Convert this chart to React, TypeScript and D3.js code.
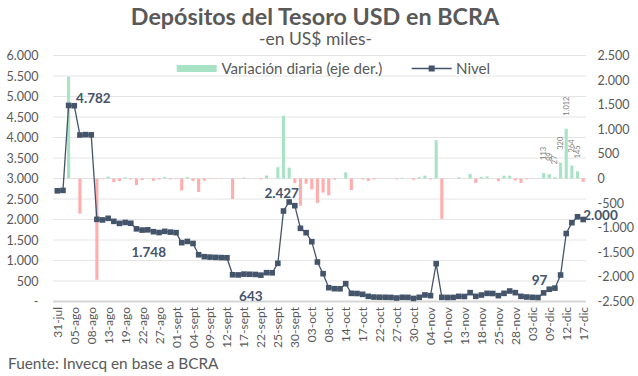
import React from 'react';
import * as d3 from 'd3';

const tickLabels = ['31-jul','05-ago','08-ago','13-ago','19-ago','22-ago','27-ago','01-sept','04-sept','09-sept','12-sept','17-sept','22-sept','25-sept','30-sept','03-oct','08-oct','14-oct','17-oct','22-oct','27-oct','30-oct','04-nov','10-nov','13-nov','18-nov','25-nov','28-nov','03-dic','09-dic','12-dic','17-dic'];

const nivel = [2700,2710,4782,4775,4061,4070,4064,2004,1990,2029,1955,1905,1928,1908,1772,1742,1748,1703,1682,1711,1692,1680,1435,1465,1415,1140,1093,1082,1076,1071,1067,652,648,668,664,660,643,703,700,931,2207,2427,2337,1785,1679,1459,963,679,337,313,310,435,199,195,175,126,108,104,102,100,85,102,100,75,102,160,143,923,102,98,100,126,122,216,126,158,199,195,143,199,256,216,126,110,102,97,210,299,326,646,1658,1922,2067,2000];

const variacion = [0,10,2072,-7,-714,9,-6,-2060,-14,39,-74,-50,23,-20,-136,-30,6,-45,-21,29,-19,-12,-245,30,-50,-275,-47,-11,-6,-5,-4,-415,-4,20,-4,-4,-17,60,-3,231,1276,220,-90,-552,-106,-220,-496,-284,-342,-24,-3,125,-236,-4,-20,-49,-18,-4,-2,-2,-15,17,-2,-25,27,58,-17,780,-821,-4,2,26,-4,94,-90,32,41,-4,-52,56,57,-40,-90,-16,-8,-5,113,89,27,320,1012,264,145,-67];

const barLabelIdx = [86,87,88,89,90,91,92];
const barLabelText = ['113','89','27','320','1.012','264','145'];

const nivelLabelIdx = [2,16,36,41,85,93];
const nivelLabelText = ['4.782','1.748','643','2.427','97','2.000'];

const leftTicks = [0,500,1000,1500,2000,2500,3000,3500,4000,4500,5000,5500,6000];
const rightTicks = [-2500,-2000,-1500,-1000,-500,0,500,1000,1500,2000,2500];

const locale = d3.formatLocale({decimal: ',', thousands: '.', grouping: [3], currency: ['$', ''], minus: '-'});
const fmt = locale.format(',');

const FONT = 'Lato, "Open Sans", sans-serif';
const GREY = '#595959';
const NAVY = '#44546A';
const GREEN = '#A9E3C6';
const RED = '#FFADAD';

// label placement (dx, dy, anchor) for nivel labels
const nivelLabelPos: [number, number, string][] = [
  [7.5, -2, 'start'],
  [1, 27, 'middle'],
  [-10, 26, 'middle'],
  [-7.5, -4, 'middle'],
  [1.5, -12.5, 'middle'],
  [0, 0.5, 'start'],
];

export default function App() {
  const W = 638, H = 376;
  const idx = d3.range(nivel.length);
  const x = d3.scalePoint<number>().domain(idx).range([57.3, 583.2]);
  const step = x.step();
  const barW = step * 0.55;
  const yL = d3.scaleLinear().domain([0, 6000]).range([301.5, 55.5]);
  const yR = d3.scaleLinear().domain([-2500, 2500]).range([301.5, 55.5]);
  const plotL = 53, plotR = 586;

  const line = d3.line<number>().x((_, i) => x(i)!).y(d => yL(d));

  return (
    <svg width={W} height={H} style={{position: 'absolute', left: 0, top: 0, background: '#fff'}} fontFamily={FONT}>
      <rect width={W} height={H} fill="#fff" />
      {/* title */}
      <text x={315} y={25} textAnchor="middle" fontSize={23.3} fontWeight={700} fill={GREY}>Depósitos del Tesoro USD en BCRA</text>
      <text x={315.5} y={45} textAnchor="middle" fontSize={17.5} fill={GREY}>-en US$ miles-</text>

      {/* gridlines */}
      {leftTicks.filter(t => t > 0).map(t => (
        <line key={t} x1={plotL} x2={plotR} y1={yL(t)} y2={yL(t)} stroke="#E4E4E4" strokeWidth={1} />
      ))}

      {/* legend */}
      <rect x={176.7} y={65} width={40} height={7} fill={GREEN} />
      <text x={221.5} y={73.5} fontSize={15.1} fill={GREY}>Variación diaria (eje der.)</text>
      <line x1={411.7} x2={451.7} y1={68.5} y2={68.5} stroke={NAVY} strokeWidth={1.3} />
      <rect x={428.7} y={65.5} width={6} height={6} fill={NAVY} />
      <text x={456} y={73.5} fontSize={15.1} fill={GREY}>Nivel</text>

      {/* bars */}
      {variacion.map((v, i) => (
        v === 0 ? null :
        <rect key={i} x={x(i)! - barW / 2} width={barW}
          y={Math.min(yR(v), yR(0))} height={Math.abs(yR(v) - yR(0))}
          fill={v > 0 ? GREEN : RED} />
      ))}

      {/* bar labels */}
      {barLabelIdx.map((bi, k) => {
        const bx = x(bi)! + 2.5;
        const by = yR(variacion[bi]) - 13;
        return (
          <text key={bi} transform={`translate(${bx},${by}) rotate(-90)`} fontSize={7.5} fill="#808080">{barLabelText[k]}</text>
        );
      })}

      {/* baseline */}
      <line x1={plotL} x2={plotR} y1={yL(0)} y2={yL(0)} stroke="#D6D6D6" strokeWidth={2} />

      {/* line */}
      <path d={line(nivel) || ''} fill="none" stroke={NAVY} strokeWidth={1.3} />
      {nivel.map((v, i) => (
        <rect key={i} x={x(i)! - 2.8} y={yL(v) - 2.8} width={5.6} height={5.6} fill={NAVY} />
      ))}

      {/* nivel labels */}
      {nivelLabelIdx.map((ni, k) => {
        const [dx, dy, anchor] = nivelLabelPos[k];
        return (
          <text key={ni} x={x(ni)! + dx} y={yL(nivel[ni]) + dy} textAnchor={anchor as any}
            fontSize={13.5} fontWeight={700} fill={NAVY}>{nivelLabelText[k]}</text>
        );
      })}

      {/* left axis */}
      {leftTicks.map(t => (
        <text key={t} x={38.5} y={yL(t) + 4.5} textAnchor="end" fontSize={12.5} fill={GREY}>{t === 0 ? '-' : fmt(t)}</text>
      ))}

      {/* right axis */}
      {rightTicks.map(t => (
        <text key={t} x={597.5} y={yR(t) + 4.5} textAnchor="start" fontSize={12.5} fill={GREY}>{fmt(t)}</text>
      ))}

      {/* x labels */}
      {tickLabels.map((lab, k) => {
        const i = k * 3;
        return (
          <text key={lab} transform={`translate(${x(i)! + 4.5},307) rotate(-90)`} textAnchor="end" fontSize={12} fill={GREY}>{lab}</text>
        );
      })}

      {/* source */}
      <text x={8} y={369} fontSize={15.4} fill={GREY}>Fuente: Invecq en base a BCRA</text>
    </svg>
  );
}
